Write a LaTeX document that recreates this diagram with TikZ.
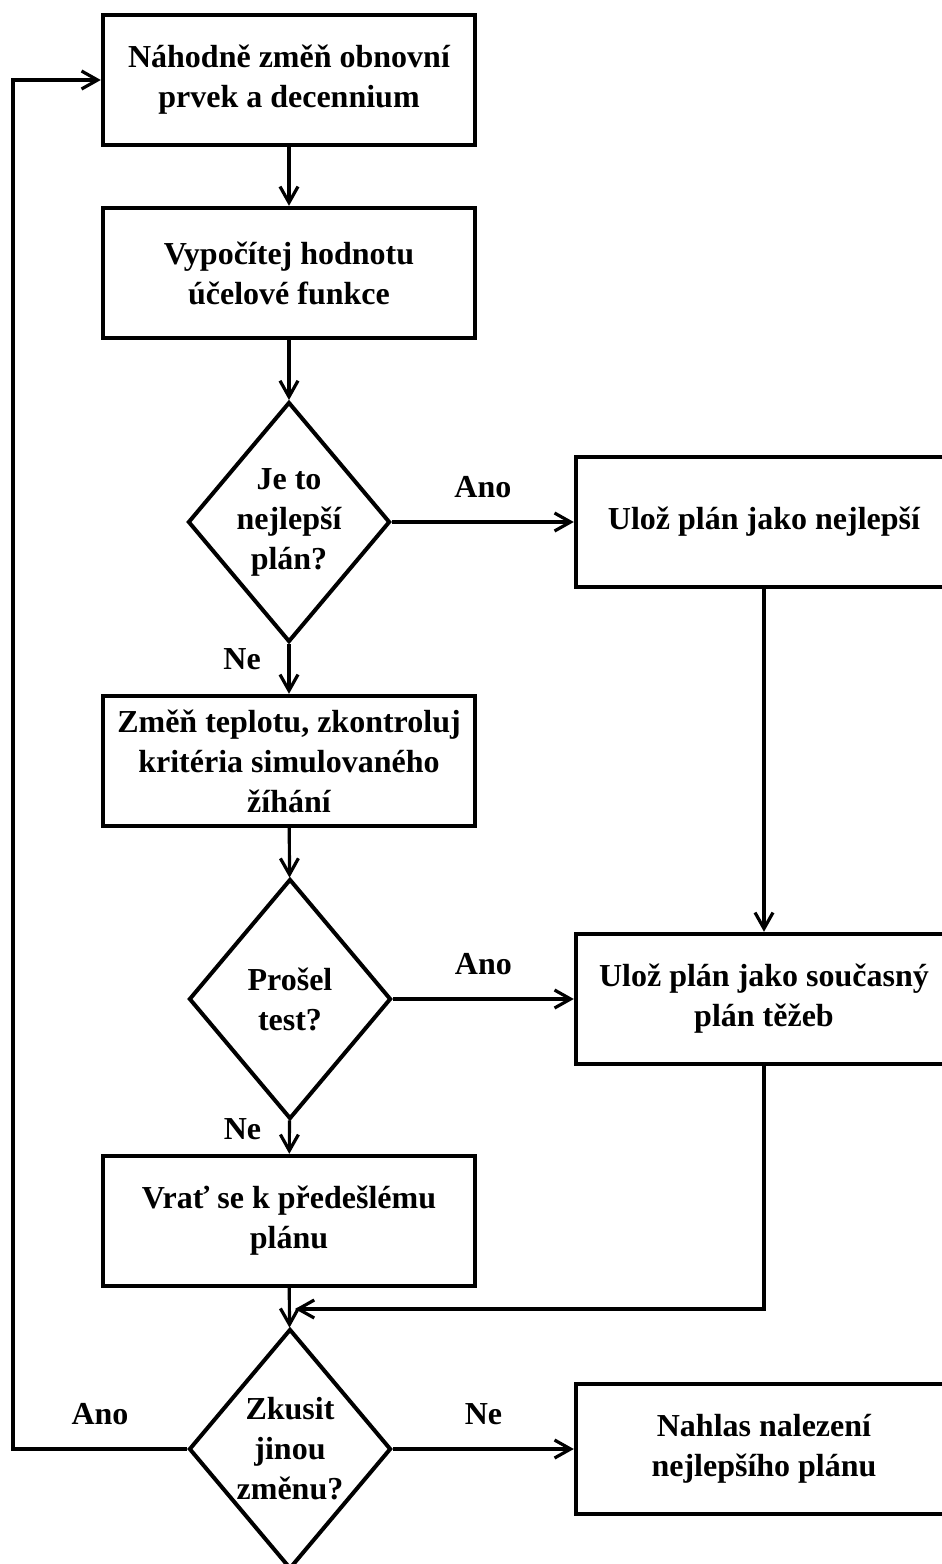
\documentclass[tikz,border=0pt]{standalone}
\usepackage{fontspec}
\setmainfont{Liberation Serif}
\usepackage{tikz}
\usetikzlibrary{shapes.geometric}
\usetikzlibrary{arrows.meta}
\tikzstyle{every node}=[font=\fontsize{16}{20}\selectfont\bfseries]
\tikzstyle{krok}=[draw,rectangle,line width=2.2pt,minimum width=186pt,minimum height=65pt,align=center,inner sep=0pt]
\tikzstyle{otazka}=[draw,diamond,aspect=0.84,line width=2pt,minimum width=101pt,minimum height=120pt,align=center,inner sep=0pt]
\tikzstyle{spoj}=[->,line width=1.6pt]

\begin{document}
\begin{tikzpicture}[x=0.5pt,y=-0.5pt,>={Straight Barb[length=8pt,width=9pt]}]
                    \useasboundingbox (0,0) rectangle (942,1564);
                    \clip (0,0) rectangle (942,1564);
                    \node[krok] (nahoda) at (289,80) {Náhodně změň obnovní\\prvek a decennium};
                    \node[krok] (vypocet) at (289,273) {Vypočítej hodnotu\\účelové funkce};
                    \node[otazka] (nejlepsi) at (289,522) {Je to\\nejlepší\\plán?};
                    \node[krok,minimum width=188pt] (ulozNej) at (764,522) {Ulož plán jako nejlepší};
                    \node[krok] (teplota) at (289,761) {Změň teplotu, zkontroluj\\kritéria simulovaného\\žíhání};
                    \node[otazka] (test) at (290,999) {Prošel\\test?};
                    \node[krok,minimum width=188pt] (ulozSouc) at (764,999) {Ulož plán jako současný\\plán těžeb};
                    \node[krok] (navrat) at (289,1221) {Vrať se k předešlému\\plánu};
                    \node[otazka] (zkusit) at (290,1449) {Zkusit\\jinou\\změnu?};
                    \node[krok,minimum width=188pt] (nahlas) at (764,1449) {Nahlas nalezení\\nejlepšího plánu};
                    \coordinate (sber) at (295,1309);
                    \coordinate (obrat) at (13,1449);
                    \draw[spoj] (nahoda) -- (vypocet);
                    \draw[spoj] (vypocet) -- (nejlepsi);
                    \draw[spoj] (nejlepsi) -- node[midway,above=8pt] {Ano} (ulozNej);
                    \draw[spoj] (nejlepsi) -- node[pos=0.3,left=10pt] {Ne} (teplota);
                    \draw[spoj] (ulozNej) -- (ulozSouc);
                    \draw[spoj] (teplota) -- (test);
                    \draw[spoj] (test) -- node[midway,above=8pt] {Ano} (ulozSouc);
                    \draw[spoj] (test) -- node[pos=0.27,left=10pt] {Ne} (navrat);
                    \draw[spoj] (ulozSouc.south) |- (sber);
                    \draw[spoj] (navrat) -- (zkusit);
                    \draw[spoj] (zkusit) -- node[midway,above=8pt] {Ne} (nahlas);
                    \draw[spoj] (zkusit.west) -- node[midway,above=8pt] {Ano} (obrat) |- (nahoda.west);
                    \end{tikzpicture}
\end{document}
